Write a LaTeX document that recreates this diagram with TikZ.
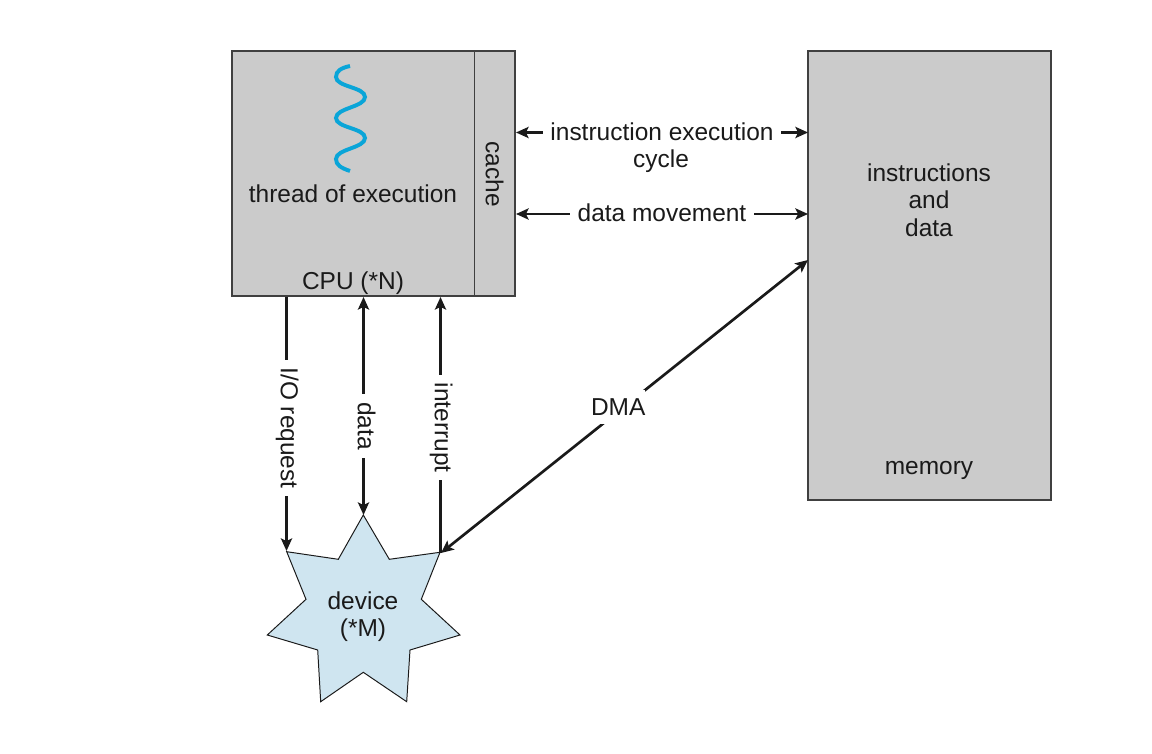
\documentclass[tikz,border=0pt]{standalone}
\usepackage{fontspec}
\setmainfont{Liberation Sans}
\usepackage{xcolor}
\usetikzlibrary{arrows.meta,positioning}
\definecolor{boxgray}{HTML}{CBCBCB}
\definecolor{boxedge}{HTML}{404040}
\definecolor{threadblue}{HTML}{0AA5D8}
\definecolor{starblue}{HTML}{CFE5F0}
\definecolor{inkblack}{HTML}{1A1A1A}
\begin{document}
\begin{tikzpicture}[
    x=0.025cm, y=-0.025cm,
    every node/.style={text=inkblack, font=\fontsize{17.4}{19.4}\selectfont},
    box/.style={draw=boxedge, fill=boxgray, line width=1.1pt, inner sep=0pt},
    link/.style={draw=inkblack, line width=1.6pt, {Stealth[length=9pt,width=8pt,inset=2pt]}-{Stealth[length=9pt,width=8pt,inset=2pt]}},
    linkto/.style={draw=inkblack, line width=1.7pt, -{Stealth[length=9pt,width=8pt,inset=2pt]}},
    hlbl/.style={fill=white, inner xsep=5.3pt, inner ysep=1pt, text height=11pt, text depth=0pt},
    vlbl/.style={fill=white, inner xsep=5.6pt, inner ysep=1pt, text height=8pt, text depth=0pt, rotate=-90}
]
\useasboundingbox (0,0) rectangle (1152,754);

% CPU and memory
\node[box, minimum width=7.075cm, minimum height=6.125cm] (cpu) at (373.5,173.5) {};
\node[box, minimum width=1.0125cm, minimum height=6.125cm] (cache) at (494.75,173.5) {};
\node[box, minimum width=6.075cm, minimum height=11.225cm] (memory) at (929.5,275.5) {};

\node[rotate=-90, text height=9.6pt, text depth=0pt, inner sep=0pt] (cachetxt) at (492.5,174) {cache};
\node (threadtxt) at (353,194) {thread of execution};
\node (cputxt) at (353,283) {CPU (*N)};
\node[align=center] (memtxt) at (929,200) {instructions\\and\\data};
\node (memlabel) at (929,470) {memory};

% thread
\draw[threadblue, line width=2.8pt]
    (350,66) .. controls (341,68) and (336,71) .. (336,77)
    .. controls (336,87) and (365,87) .. (365,97)
    .. controls (365,107) and (336,108) .. (336,118)
    .. controls (336,128) and (365,128) .. (365,138)
    .. controls (365,148) and (336,149) .. (336,159)
    .. controls (336,165) and (341,168) .. (350,171);

% device
\draw[draw=inkblack, fill=starblue, line width=0.7pt]
    (363.3,515) -- (389.3,559.3) -- (440,552.3) -- (421.3,599.3) -- (460,635)
    -- (410,650) -- (406.7,701.7) -- (363.3,672.3) -- (320.7,701.7) -- (317.7,650)
    -- (267.3,635) -- (306,599.3) -- (286.7,551.7) -- (338.3,559.3) -- cycle;
\node[align=center] (device) at (363,617) {device\\(*M)};

% connector ends
\coordinate (cyclea) at (516,132.5);
\coordinate (cycleb) at (808,132.5);
\coordinate (movea) at (516,214);
\coordinate (moveb) at (808,214);
\coordinate (ioa) at (286.5,297);
\coordinate (iob) at (286.5,551);
\coordinate (dataa) at (363.5,297);
\coordinate (datab) at (363.5,515);
\coordinate (inta) at (440.5,553);
\coordinate (intb) at (440.5,297);
\coordinate (dmaa) at (441,553);
\coordinate (dmab) at (808,260);

% connectors
\draw[link] (cyclea) -- node[hlbl] (cyclelbl) {instruction execution} (cycleb);
\node (cycletxt) at (661,161) {cycle};
\draw[link] (movea) -- node[hlbl] (movelbl) {data movement} (moveb);
\draw[linkto] (ioa) -- node[vlbl, pos=0.516] (iolbl) {I/O request} (iob);
\draw[link] (dataa) -- node[vlbl, pos=0.592] (datalbl) {data} (datab);
\draw[linkto] (inta) -- node[vlbl, pos=0.49] (intlbl) {interrupt} (intb);
\draw[link, line width=1.9pt] (dmaa) -- node[fill=white, pos=0.483, yshift=3.2pt, inner xsep=0pt, inner ysep=5.8pt, text height=12pt, text depth=0pt] (dmalbl) {DMA} (dmab);

\end{tikzpicture}
\end{document}
